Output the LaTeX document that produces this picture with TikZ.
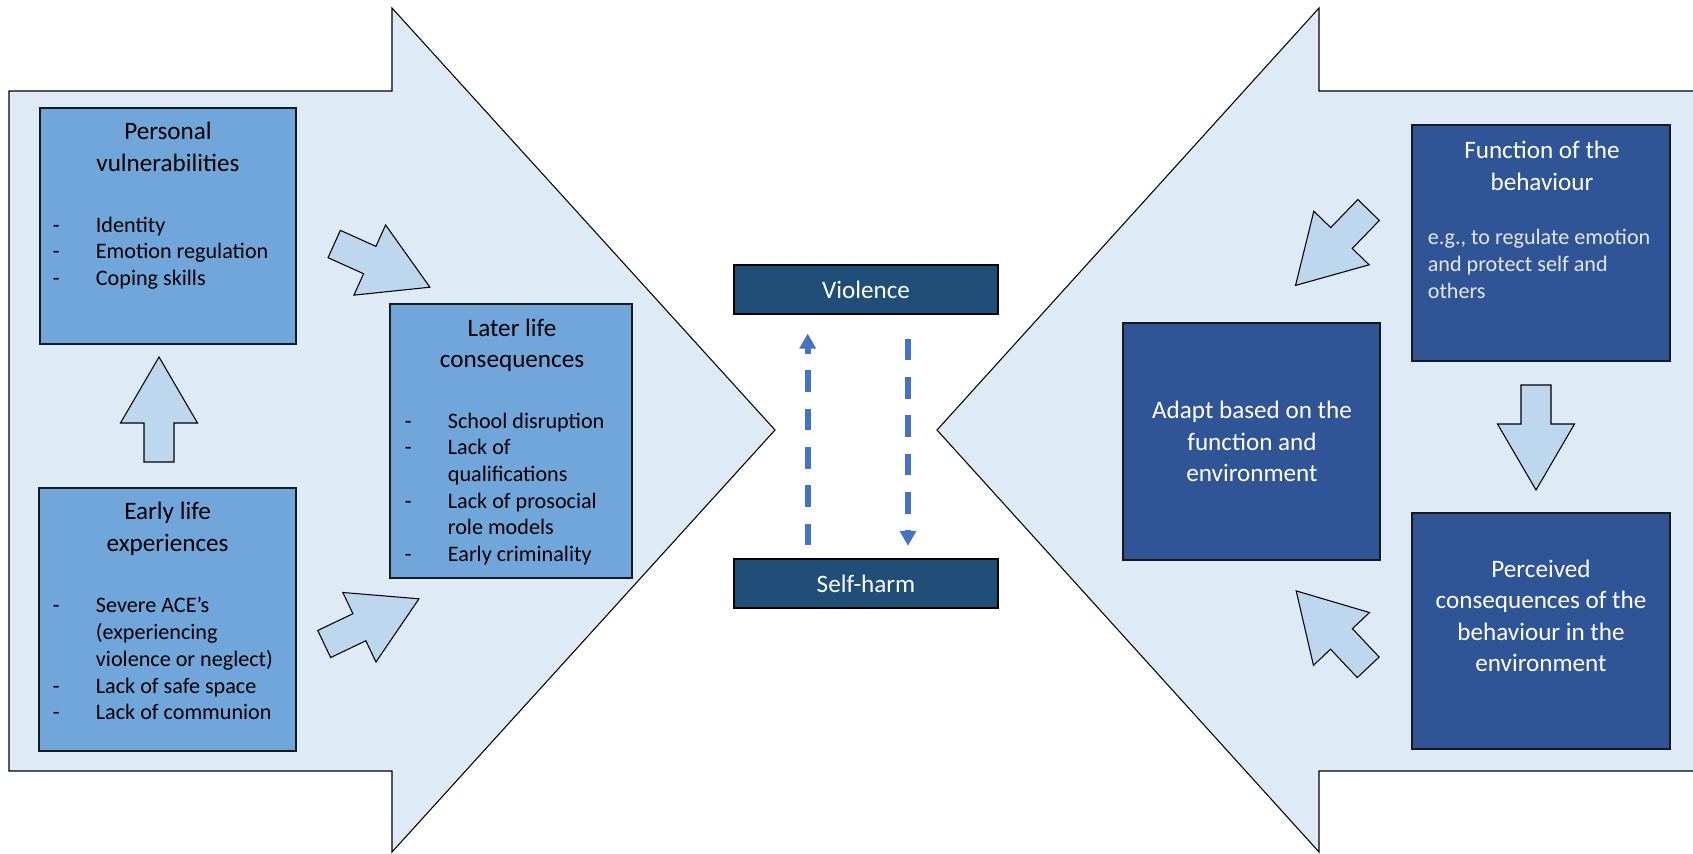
\documentclass[tikz,border=0pt]{standalone}
\usepackage{fontspec}
\setmainfont{Carlito}
\usetikzlibrary{arrows.meta,fit}

\definecolor{paleblue}{HTML}{DEEBF7}
\definecolor{arrowblue}{HTML}{BDD7EE}
\definecolor{midblue}{HTML}{70A6DA}
\definecolor{navyblue}{HTML}{1F4E79}
\definecolor{royalblue}{HTML}{2F5597}
\definecolor{dashblue}{HTML}{4472C4}
\definecolor{softwhite}{HTML}{E6E6E6}

\newcommand\titlefont{\fontsize{14.3pt}{17.9pt}\selectfont}
\newcommand\bodyfont{\fontsize{12.6pt}{15.2pt}\selectfont}
% list line with a leading dash, and a continuation line
\newcommand\lstitem[1]{\strut\makebox[0.86cm][l]{-}#1}
\newcommand\lstcont[1]{\strut\hspace*{0.86cm}#1}

\tikzset{
  bigarrow/.style={draw=black, line width=0.6pt, fill=paleblue, line join=miter},
  lightbox/.style={draw=black!90, line width=1pt, fill=midblue, inner sep=0pt},
  darkbox/.style={draw=black!90, line width=1pt, fill=royalblue, inner sep=0pt},
  centrebox/.style={draw=black, line width=1pt, fill=navyblue, inner sep=0pt,
    minimum width=5.28cm, minimum height=0.98cm, font=\titlefont, text=white},
  smallarrow/.style={draw=black, line width=0.6pt, fill=arrowblue, line join=miter},
  heading/.style={font=\titlefont, align=center, inner sep=0pt},
  listtext/.style={font=\bodyfont, align=left, inner sep=0pt, anchor=west},
  dasharrow/.style={draw=dashblue, line width=3.2pt,
    dash pattern=on 12.3pt off 9.5pt,
    -{Triangle[width=9pt,length=8.5pt]}},
  blockarrow/.pic={
    \draw[smallarrow] (0,-15) -- (39,-15) -- (39,-38.5) -- (105,0)
      -- (39,38.5) -- (39,15) -- (0,15) -- cycle;
  }
}

\begin{document}
\begin{tikzpicture}[x=0.02cm, y=-0.02cm]
\useasboundingbox (0,0) rectangle (1693,853);
\clip (0,0) rectangle (1693,853);

% the two large opposing arrows
\draw[bigarrow] (9,91) -- (392,91) -- (392,8) -- (775,430) -- (392,852)
  -- (392,771) -- (9,771) -- cycle;
\draw[bigarrow] (1705,91) -- (1319,91) -- (1319,8) -- (937,430) -- (1319,852)
  -- (1319,771) -- (1705,771) -- cycle;

% left-hand boxes
\node[lightbox, fit={(40,108)(296,344)}] (pv) {};
\node[heading] (pvT) at (168,149) {\strut Personal\\\strut vulnerabilities};
\node[listtext] (pvL) at (52.6,253.5)
  {\lstitem{Identity}\\\lstitem{Emotion regulation}\\\lstitem{Coping skills}};

\node[lightbox, fit={(39,488)(296,751)}] (ele) {};
\node[heading] (eleT) at (167.6,529) {\strut Early life\\\strut experiences};
\node[listtext] (eleL) at (52.6,661)
  {\lstitem{Severe ACE’s}\\\lstcont{(experiencing}\\\lstcont{violence or neglect)}\\
   \lstitem{Lack of safe space}\\\lstitem{Lack of communion}};

\node[lightbox, fit={(390,304)(632,578)}] (llc) {};
\node[heading] (llcT) at (512,345.5) {\strut Later life\\\strut consequences};
\node[listtext] (llcL) at (404.6,489.5)
  {\lstitem{School disruption}\\\lstitem{Lack of}\\\lstcont{qualifications}\\
   \lstitem{Lack of prosocial}\\\lstcont{role models}\\\lstitem{Early criminality}};

% centre boxes
\node[centrebox] (vio) at (866,289.5) {Violence};
\node[centrebox] (sh) at (866,583.5) {Self-harm};

\draw[dasharrow, shorten <=0.26cm, shorten >=0.374cm]
  ([xshift=-1.166cm]sh.north) -- ([xshift=-1.166cm]vio.south);
\draw[dasharrow, shorten <=0.48cm, shorten >=0.246cm]
  ([xshift=0.84cm]vio.south) -- ([xshift=0.84cm]sh.north);

% right-hand boxes
\node[darkbox, fit={(1412,125)(1670,361)}] (fun) {};
\node[heading, text=white] (funT) at (1542,168) {\strut Function of the\\\strut behaviour};
\node[listtext, text=softwhite] (funL) at (1427.5,266)
  {\strut e.g., to regulate emotion\\\strut and protect self and\\\strut others};

\node[darkbox, fit={(1123,323)(1380,560)}] (adp) {};
\node[heading, text=white] (adpT) at (1252,444)
  {\strut Adapt based on the\\\strut function and\\\strut environment};

\node[darkbox, fit={(1412,513)(1670,749)}] (per) {};
\node[heading, text=white] (perT) at (1541,618)
  {\strut Perceived\\\strut consequences of the\\\strut behaviour in the\\\strut environment};

% small block arrows
\pic[rotate=90] (upA) at (159,462) {blockarrow};
\pic[rotate=-24.3] (pvA) at (334.2,244) {blockarrow};
\pic[rotate=25.5] (eleA) at (324.2,644) {blockarrow};
\pic[rotate=-90] (downA) at (1536,385) {blockarrow};
\pic[rotate=225.9] (funA) at (1368.6,210) {blockarrow};
\pic[rotate=133.3] (perA) at (1368.2,667.3) {blockarrow};
\end{tikzpicture}
\end{document}
